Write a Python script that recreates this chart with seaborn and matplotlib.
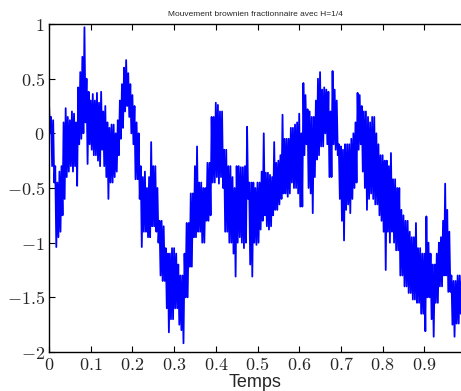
import numpy as np
import pandas as pd
import matplotlib
matplotlib.use('Agg')
import matplotlib.pyplot as plt
import seaborn as sns

# the path is very rough: for every 0.005 of time the top and the bottom
# of the blue band were read off the picture, the line swings between them
dt = 0.005
band_high = [
    0.28, 0.15, 0.12, -0.3, -0.45, -0.35, -0.3, 0.1, 0.23, 0.15,
    0.12, 0.2, 0.18, 0.1, 0.42, 0.56, 0.7, 0.97, 0.5, 0.38,
    0.3, 0.36, 0.3, 0.37, 0.28, 0.38, 0.2, 0.25, 0.1, 0.05,
    0.08, 0.08, 0.0, 0.12, 0.3, 0.45, 0.6, 0.67, 0.55, 0.45,
    0.35, 0.25, 0.1, 0.0, -0.3, -0.4, -0.35, -0.5, -0.4, -0.08,
    -0.3, -0.3, -0.5, -0.8, -0.8, -0.85, -1.05, -1.1, -1.1, -1.05,
    -1.05, -1.1, -1.2, -1.3, -1.3, -1.1, -0.82, -0.82, -0.55, -0.55,
    -0.3, -0.12, -0.45, -0.45, -0.5, -0.5, -0.27, -0.27, 0.15, 0.15,
    0.28, 0.26, 0.2, 0.2, -0.15, -0.15, -0.3, -0.3, -0.4, -0.5,
    -0.3, -0.3, -0.31, -0.31, -0.3, 0.06, -0.45, -0.45, -0.45, -0.5,
    -0.45, -0.45, -0.35, 0.0, -0.36, -0.36, -0.38, -0.4, -0.08, -0.27,
    -0.25, -0.2, 0.17, -0.05, -0.05, -0.05, 0.05, 0.05, 0.08, 0.1,
    0.18, 0.0, 0.46, 0.35, 0.22, 0.2, 0.15, 0.15, 0.3, 0.5,
    0.56, 0.4, 0.42, 0.4, 0.38, 0.2, 0.57, 0.4, 0.3, -0.1,
    -0.12, -0.15, -0.1, -0.1, -0.1, -0.05, 0.0, 0.1, 0.37, 0.35,
    0.25, 0.2, 0.2, 0.15, 0.1, 0.15, 0.15, 0.0, -0.1, -0.2,
    -0.2, -0.25, -0.25, -0.3, -0.18, -0.42, -0.42, -0.5, -0.5, -0.7,
    -0.75, -0.8, -0.8, -0.9, -0.95, -0.95, -0.82, -1.05, -1.05, -1.1,
    -1.1, -0.76, -1.0, -1.1, -1.2, -1.2, -1.1, -1.0, -0.95, -0.8,
    -0.46, -0.7, -0.9, -1.3, -1.35, -1.35, -1.3, -1.3, -1.35,
]
band_low = [
    0.0, -0.3, -0.45, -1.04, -0.95, -0.9, -0.75, -0.6, -0.4, -0.35,
    -0.3, -0.35, -0.3, -0.48, -0.1, -0.05, 0.0, 0.1, -0.28, -0.1,
    -0.15, -0.2, -0.2, -0.25, -0.3, -0.15, -0.3, -0.4, -0.6, -0.45,
    -0.45, -0.4, -0.35, -0.2, -0.05, 0.05, 0.2, 0.25, 0.15, 0.0,
    -0.1, -0.42, -0.42, -0.6, -1.04, -0.9, -0.9, -0.95, -0.95, -0.85,
    -0.85, -0.9, -1.0, -1.3, -1.35, -1.35, -1.6, -1.82, -1.7, -1.7,
    -1.6, -1.6, -1.75, -1.8, -1.92, -1.5, -1.5, -1.22, -1.22, -0.95,
    -0.95, -0.9, -0.9, -1.0, -1.0, -0.8, -0.8, -0.75, -0.45, -0.45,
    -0.4, -0.46, -0.4, -0.5, -0.9, -0.9, -1.0, -1.0, -1.1, -1.31,
    -1.0, -0.95, -1.0, -1.05, -1.0, -0.6, -1.2, -1.31, -1.0, -1.02,
    -1.0, -0.88, -0.8, -0.75, -0.85, -0.88, -0.85, -0.75, -0.7, -0.7,
    -0.65, -0.6, -0.55, -0.55, -0.58, -0.55, -0.45, -0.5, -0.5, -0.55,
    -0.67, -0.67, -0.2, -0.1, -0.5, -0.55, -0.73, -0.4, -0.24, -0.2,
    -0.12, -0.12, 0.0, -0.1, -0.4, -0.4, -0.1, -0.15, -0.2, -0.6,
    -0.8, -0.98, -0.7, -0.65, -0.73, -0.6, -0.5, -0.45, -0.15, -0.1,
    -0.35, -0.5, -0.7, -0.6, -0.55, -0.6, -0.65, -0.65, -0.75, -0.8,
    -0.9, -1.25, -0.9, -1.0, -0.9, -1.0, -1.07, -1.07, -1.3, -1.3,
    -1.4, -1.4, -1.46, -1.46, -1.52, -1.52, -1.55, -1.55, -1.65, -1.65,
    -1.81, -1.5, -1.5, -1.7, -1.86, -1.55, -1.55, -1.4, -1.4, -1.3,
    -1.3, -1.45, -1.45, -1.75, -1.86, -1.74, -1.74, -1.65, -1.65,
]
x_ticks = [0, 0.1, 0.2, 0.3, 0.4, 0.5, 0.6, 0.7, 0.8, 0.9]
y_ticks = [-2, -1.5, -1, -0.5, 0, 0.5, 1]

# high, low, high, low ... every half step
path = np.column_stack([band_high, band_low]).ravel()
df = pd.DataFrame({'t': np.arange(len(path)) * dt / 2, 'B': path})

sns.set_style('white')
plt.rcParams['mathtext.fontset'] = 'cm'

fig = plt.figure(figsize=(4.61, 3.91), dpi=100)
ax = fig.add_axes([49 / 461, 1 - 352 / 391, 1 - 49 / 461, (352 - 24) / 391])

sns.lineplot(data=df, x='t', y='B', estimator=None, color='#0000ff',
             linewidth=1.3, ax=ax)

ax.set_xlim(0, 0.988)
ax.set_ylim(-2, 1)
ax.set_xticks(x_ticks)
ax.set_yticks(y_ticks)
ax.set_xticklabels(['$%g$' % v for v in x_ticks], fontsize=13)
ax.set_yticklabels(['$%g$' % v for v in y_ticks], fontsize=13)
ax.tick_params(direction='in', length=4, width=0.8, color='black',
               top=True, bottom=True, left=True, right=False, pad=3)

for side in ['left', 'top', 'bottom']:
    ax.spines[side].set_color('black')
    ax.spines[side].set_linewidth(1.0)
ax.spines['right'].set_visible(False)

ax.set_xlabel('Temps', fontsize=13, family='Liberation Sans', labelpad=0)
ax.set_ylabel('')
ax.set_title('Mouvement brownien fractionnaire avec H=1/4', fontsize=6,
             family='Liberation Sans', pad=6)

fig.savefig('out.png', dpi=100)
